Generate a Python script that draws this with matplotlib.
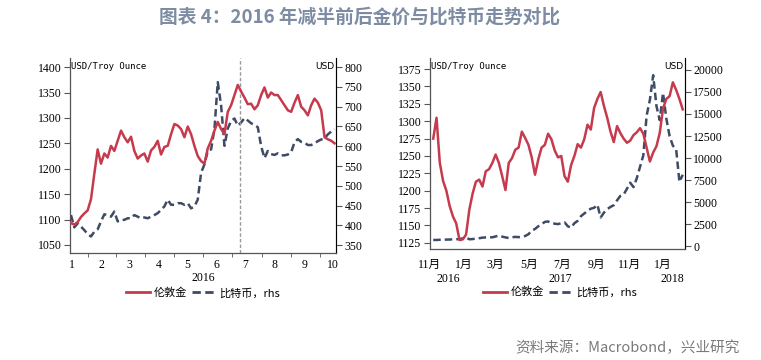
import matplotlib
matplotlib.use('Agg')
import matplotlib.pyplot as plt
import pandas as pd

plt.rcParams['font.family'] = ['Liberation Serif', 'Noto Sans CJK SC', 'DejaVu Sans']

# 颜色
GOLD_C = '#c63a4d'
BTC_C = '#3f4b66'
TITLE_C = '#7d8ca3'

# ---- 左图：2016 年（1月中旬 - 10月中旬），间隔 3.5 天
gold_2016 = [1093, 1090, 1095, 1105, 1112, 1118, 1140, 1190, 1238, 1210,
             1230, 1222, 1245, 1235, 1255, 1275, 1262, 1252, 1263, 1235,
             1220, 1226, 1230, 1214, 1236, 1243, 1255, 1228, 1243, 1245,
             1268, 1288, 1285, 1278, 1262, 1283, 1268, 1245, 1225, 1215,
             1210, 1240, 1255, 1275, 1292, 1278, 1268, 1312, 1325, 1345,
             1365, 1352, 1340, 1327, 1328, 1317, 1325, 1345, 1360, 1340,
             1350, 1345, 1345, 1335, 1325, 1315, 1312, 1330, 1345, 1322,
             1315, 1305, 1325, 1338, 1330, 1315, 1262, 1258, 1255, 1250]
btc_2016 = [426, 395, 405, 397, 388, 378, 372, 384, 390, 410,
            428, 426, 422, 435, 410, 414, 414, 418, 418, 426,
            422, 418, 420, 418, 422, 426, 431, 439, 448, 465,
            452, 452, 456, 456, 452, 456, 443, 448, 465, 533,
            554, 588, 592, 643, 762, 703, 601, 645, 664, 670,
            652, 660, 671, 665, 658, 654, 648, 600, 570, 588,
            580, 578, 582, 577, 577, 579, 585, 610, 618, 611,
            609, 603, 603, 607, 613, 617, 620, 630, 637, 643]
dates_2016 = pd.date_range('2016-01-14', periods=len(gold_2016), freq='84h')
halving_date = pd.Timestamp('2016-07-09')
month_labels_2016 = ['1', '2', '3', '4', '5', '6', '7', '8', '9', '10']

# ---- 右图：2016年11月 - 2018年2月，间隔 6 天
gold_1718 = [1275, 1305, 1240, 1214, 1200, 1178, 1163, 1153, 1129, 1130,
             1137, 1173, 1196, 1213, 1216, 1206, 1228, 1231, 1240, 1252,
             1240, 1221, 1201, 1240, 1247, 1259, 1262, 1285, 1276, 1266,
             1248, 1223, 1245, 1262, 1266, 1282, 1274, 1258, 1248, 1250,
             1221, 1213, 1237, 1250, 1267, 1262, 1274, 1295, 1288, 1319,
             1332, 1342, 1322, 1305, 1285, 1270, 1293, 1283, 1275, 1269,
             1272, 1280, 1284, 1290, 1282, 1262, 1242, 1255, 1264, 1283,
             1318, 1332, 1336, 1356, 1345, 1332, 1317]
btc_1718 = [700, 700, 720, 720, 740, 750, 770, 780, 800, 880,
            960, 780, 800, 870, 900, 960, 990, 1010, 1000, 1100,
            1190, 1080, 990, 920, 1000, 1050, 1020, 1070, 1150, 1350,
            1750, 1950, 2250, 2490, 2750, 2800, 2600, 2550, 2500, 2600,
            2700, 2250, 2100, 2600, 2870, 3400, 3700, 4000, 4250, 4350,
            4700, 3250, 3800, 4200, 4450, 4650, 5200, 5700, 5850, 6500,
            7200, 6700, 7700, 9000, 10300, 14800, 16600, 19400, 15900, 14300,
            17400, 14500, 12500, 11400, 11000, 7300, 8100]
dates_1718 = pd.date_range('2016-11-07', periods=len(gold_1718), freq='6D')
month_ticks_1718 = pd.to_datetime(['2016-11-01', '2017-01-01', '2017-03-01', '2017-05-01',
                                   '2017-07-01', '2017-09-01', '2017-11-01', '2018-01-01'])
month_labels_1718 = ['11月', '1月', '3月', '5月', '7月', '9月', '11月', '1月']
year_labels = ['2016', '2017', '2018']
year_pos = pd.to_datetime(['2016-12-05', '2017-06-28', '2018-01-19'])

fig = plt.figure(figsize=(7.61, 3.6), dpi=100)

TICK_FS = 8.5
CJK = ['Noto Sans CJK SC', 'DejaVu Sans']


def style_axes(ax, ax2):
    ax.spines['top'].set_visible(False)
    ax2.spines['top'].set_visible(False)
    for sp in ['left', 'bottom']:
        ax.spines[sp].set_color('#555555')
    ax2.spines['right'].set_color('#555555')
    ax.tick_params(axis='y', direction='out', length=4, color='#555555', labelsize=TICK_FS, pad=2)
    ax2.tick_params(axis='y', direction='out', length=4, color='#555555', labelsize=TICK_FS, pad=2)
    ax.text(0.005, 0.955, 'USD/Troy Ounce', transform=ax.transAxes, fontsize=6.5,
            family='DejaVu Sans Mono', va='center', ha='left')
    ax.text(0.995, 0.955, 'USD', transform=ax.transAxes, fontsize=6.5,
            family='DejaVu Sans', va='center', ha='right')


def add_legend(ax, x, y):
    h1, = ax.plot([], [], color=GOLD_C, lw=2)
    h2, = ax.plot([], [], color=BTC_C, lw=2, linestyle=(0, (3, 1.6)))
    ax.legend([h1, h2], ['伦敦金', '比特币，rhs'], loc='center', bbox_to_anchor=(x, y),
              bbox_transform=ax.transAxes, ncol=2, frameon=False, prop={'family': CJK, 'size': 8},
              handlelength=2.2, handletextpad=0.3, columnspacing=0.4)


# ---- 左图
ax1 = fig.add_axes([0.092, 0.297, 0.3495, 0.542])
ax1r = ax1.twinx()
ax1.plot(dates_2016, gold_2016, color=GOLD_C, lw=1.8, zorder=3)
ax1r.plot(dates_2016, btc_2016, color=BTC_C, lw=1.8, linestyle=(0, (3, 1.6)))
ax1.axvline(halving_date, color='#999999', lw=1, linestyle=(0, (2.5, 1.5)))
ax1.set_ylim(1034, 1418)
ax1.set_yticks(range(1050, 1401, 50))
ax1r.set_ylim(330, 823)
ax1r.set_yticks(range(350, 801, 50))
ax1.set_xticks([pd.Timestamp(2016, m, 15) for m in range(1, 11)])
ax1.set_xticklabels(month_labels_2016)
ax1.set_xticks(pd.date_range('2016-02-01', '2016-10-01', freq='MS'), minor=True)
ax1.set_xlim(pd.Timestamp('2016-01-13'), pd.Timestamp('2016-10-18'))
ax1.tick_params(axis='x', which='major', length=0, labelsize=TICK_FS, pad=4)
ax1.tick_params(axis='x', which='minor', length=3, color='#555555')
ax1.set_xlabel('2016', fontsize=TICK_FS, labelpad=1)
ax1.set_zorder(ax1r.get_zorder() + 1)
ax1.patch.set_visible(False)
style_axes(ax1, ax1r)
add_legend(ax1, 0.5, -0.205)

# ---- 右图
ax2 = fig.add_axes([0.565, 0.308, 0.335, 0.531])
ax2r = ax2.twinx()
ax2.plot(dates_1718, gold_1718, color=GOLD_C, lw=1.8, zorder=3)
ax2r.plot(dates_1718, btc_1718, color=BTC_C, lw=1.8, linestyle=(0, (3, 1.6)))
ax2.set_ylim(1116, 1391)
ax2.set_yticks(range(1125, 1376, 25))
ax2r.set_ylim(-340, 21360)
ax2r.set_yticks(range(0, 20001, 2500))
ax2.set_xticks(month_ticks_1718)
ax2.set_xticklabels(month_labels_1718, family=['Liberation Serif', 'Noto Sans CJK SC'])
ax2.set_xticks(pd.to_datetime(['2017-01-01', '2017-05-01', '2017-09-01', '2018-01-01']), minor=True)
ax2.set_xlim(pd.Timestamp('2016-11-01'), pd.Timestamp('2018-02-10'))
ax2.tick_params(axis='x', which='major', length=0, labelsize=TICK_FS, pad=7)
ax2.tick_params(axis='x', which='minor', length=3, color='#555555')
for yl, yp in zip(year_labels, year_pos):
    ax2.text(yp, -0.125, yl, transform=ax2.get_xaxis_transform(), ha='center', va='top',
             fontsize=TICK_FS)
ax2.set_zorder(ax2r.get_zorder() + 1)
ax2.patch.set_visible(False)
style_axes(ax2, ax2r)
add_legend(ax2, 0.51, -0.225)

fig.text(0.473, 0.952, '图表 4：2016 年减半前后金价与比特币走势对比', ha='center', va='center',
         fontsize=13.5, fontweight='bold', color=TITLE_C, family=CJK)
fig.text(0.972, 0.034, '资料来源：Macrobond，兴业研究', ha='right', va='center',
         fontsize=10.5, color='#7a7a7a', family=CJK)

fig.savefig('out.png', dpi=100)
